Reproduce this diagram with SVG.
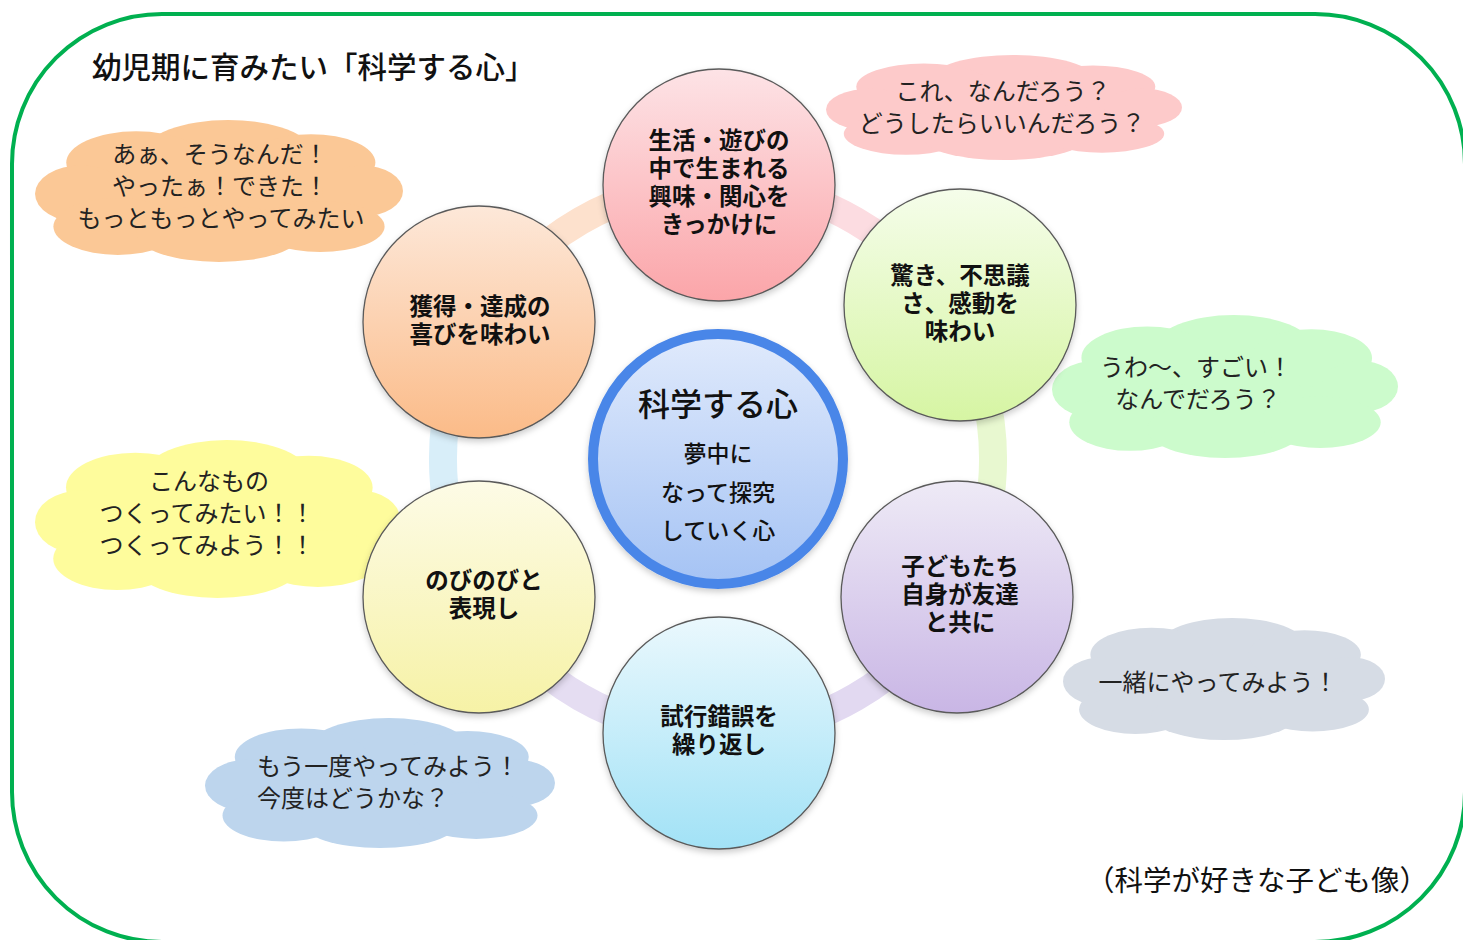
<svg xmlns="http://www.w3.org/2000/svg" xmlns:xlink="http://www.w3.org/1999/xlink" width="1463" height="940" viewBox="0 0 1463 940">
<defs>
<style>
text{font-family:"Noto Sans CJK JP","Noto Sans CJK SC",sans-serif;fill:#111;}
.node{font-size:23.5px;font-weight:bold;text-anchor:middle;}
.cloud{font-size:24px;text-anchor:middle;fill:#222;}
.circ{stroke:#5a5a5a;stroke-width:1.3;filter:url(#sh);}
.ring{fill:none;stroke-width:28;}
</style>
<filter id="sh" x="-10%" y="-10%" width="120%" height="125%">
<feDropShadow dx="0" dy="3" stdDeviation="3" flood-color="#000" flood-opacity="0.2"/>
</filter>
<linearGradient id="gPink" x1="0" y1="0" x2="0" y2="1"><stop offset="0" stop-color="#fde3e6"/><stop offset="1" stop-color="#fba5a9"/></linearGradient>
<linearGradient id="gGreen" x1="0" y1="0" x2="0" y2="1"><stop offset="0" stop-color="#f5fdea"/><stop offset="1" stop-color="#d6f5a3"/></linearGradient>
<linearGradient id="gPurple" x1="0" y1="0" x2="0" y2="1"><stop offset="0" stop-color="#eeeaf6"/><stop offset="1" stop-color="#c9b6e5"/></linearGradient>
<linearGradient id="gCyan" x1="0" y1="0" x2="0" y2="1"><stop offset="0" stop-color="#eaf8fd"/><stop offset="1" stop-color="#a2e2f6"/></linearGradient>
<linearGradient id="gYellow" x1="0" y1="0" x2="0" y2="1"><stop offset="0" stop-color="#fdfbe6"/><stop offset="1" stop-color="#f6f2a6"/></linearGradient>
<linearGradient id="gOrange" x1="0" y1="0" x2="0" y2="1"><stop offset="0" stop-color="#fde8d9"/><stop offset="1" stop-color="#fbbb88"/></linearGradient>
<linearGradient id="gBlue" x1="0" y1="0" x2="0" y2="1"><stop offset="0" stop-color="#e0eafc"/><stop offset="1" stop-color="#a5c3f4"/></linearGradient>
<symbol id="cloud" viewBox="0 0 200 100" preserveAspectRatio="none">
<ellipse cx="100" cy="50" rx="80" ry="35"/>
<ellipse cx="105" cy="22" rx="45" ry="22"/>
<ellipse cx="55" cy="30" rx="38" ry="22"/>
<ellipse cx="150" cy="30" rx="35" ry="20"/>
<ellipse cx="25" cy="52" rx="25" ry="20"/>
<ellipse cx="178" cy="50" rx="22" ry="18"/>
<ellipse cx="45" cy="75" rx="35" ry="20"/>
<ellipse cx="100" cy="80" rx="45" ry="20"/>
<ellipse cx="155" cy="75" rx="35" ry="18"/>
</symbol>
</defs>
<rect width="1463" height="940" fill="#ffffff"/>
<rect id="frame" x="12" y="14" width="1453" height="928" rx="150" ry="150" fill="none" stroke="#00b050" stroke-width="4"/>
<text x="92" y="78" style="font-size:29.5px;font-weight:500;">幼児期に育みたい「科学する心」</text>
<text x="1428" y="891" style="font-size:28.5px;text-anchor:end;">（科学が好きな子ども像）</text>

<g id="connectors">
<path class="ring" stroke="#e8f8d0" d="M956.2,321.5 A275,275 0 0 1 956.2,596.5"/>
<path class="ring" stroke="#e2d9f1" d="M956.2,596.5 A275,275 0 0 1 718,734"/>
<path class="ring" stroke="#e5ddf2" d="M718,734 A275,275 0 0 1 479.8,596.5"/>
<path class="ring" stroke="#d8eef9" d="M479.8,596.5 A275,275 0 0 1 479.8,321.5"/>
<path class="ring" stroke="#fde1cd" d="M479.8,321.5 A275,275 0 0 1 718,184"/>
<path class="ring" stroke="#fcdce1" d="M718,184 A275,275 0 0 1 956.2,321.5"/>
</g>

<g id="cloud-orange">
<use xlink:href="#cloud" x="35" y="120" width="368" height="142" fill="#fbc896"/>
<text class="cloud"><tspan x="220" y="163">あぁ、そうなんだ！</tspan><tspan x="220" y="195">やったぁ！できた！</tspan><tspan x="221" y="227">もっともっとやってみたい</tspan></text>
</g>
<g id="cloud-pink">
<use xlink:href="#cloud" x="826" y="55" width="356" height="105" fill="#fdcaca"/>
<text class="cloud"><tspan x="1003" y="100">これ、なんだろう？</tspan><tspan x="1002" y="132">どうしたらいいんだろう？</tspan></text>
</g>
<g id="cloud-green">
<use xlink:href="#cloud" x="1052" y="315" width="346" height="143" fill="#ccfbcc"/>
<text class="cloud"><tspan x="1196" y="376">うわ～、すごい！</tspan><tspan x="1198" y="408">なんでだろう？</tspan></text>
</g>
<g id="cloud-gray">
<use xlink:href="#cloud" x="1063" y="618" width="322" height="122" fill="#d6dce5"/>
<text class="cloud" x="1218" y="691">一緒にやってみよう！</text>
</g>
<g id="cloud-yellow">
<use xlink:href="#cloud" x="35" y="440" width="365" height="158" fill="#fefc9c"/>
<text class="cloud"><tspan x="209" y="490">こんなもの</tspan><tspan x="207" y="522">つくってみたい！！</tspan><tspan x="207" y="554">つくってみよう！！</tspan></text>
</g>
<g id="cloud-blue">
<use xlink:href="#cloud" x="205" y="718" width="350" height="130" fill="#bdd5ed"/>
<text class="cloud" style="text-anchor:start;"><tspan x="257" y="775">もう一度やってみよう！</tspan><tspan x="257" y="807">今度はどうかな？</tspan></text>
</g>

<g id="node-pink">
<circle class="circ" cx="719" cy="185" r="116" fill="url(#gPink)"/>
<text class="node"><tspan x="719" y="149">生活・遊びの</tspan><tspan x="719" y="177">中で生まれる</tspan><tspan x="719" y="205">興味・関心を</tspan><tspan x="719" y="233">きっかけに</tspan></text>
</g>
<g id="node-green">
<circle class="circ" cx="960" cy="305" r="116" fill="url(#gGreen)"/>
<text class="node"><tspan x="960" y="284">驚き、不思議</tspan><tspan x="960" y="312">さ、感動を</tspan><tspan x="960" y="340">味わい</tspan></text>
</g>
<g id="node-purple">
<circle class="circ" cx="957" cy="597" r="116" fill="url(#gPurple)"/>
<text class="node"><tspan x="960" y="575">子どもたち</tspan><tspan x="960" y="603">自身が友達</tspan><tspan x="960" y="631">と共に</tspan></text>
</g>
<g id="node-cyan">
<circle class="circ" cx="719" cy="733" r="116" fill="url(#gCyan)"/>
<text class="node"><tspan x="719" y="725">試行錯誤を</tspan><tspan x="719" y="753">繰り返し</tspan></text>
</g>
<g id="node-yellow">
<circle class="circ" cx="479" cy="597" r="116" fill="url(#gYellow)"/>
<text class="node"><tspan x="484" y="589">のびのびと</tspan><tspan x="484" y="617">表現し</tspan></text>
</g>
<g id="node-orange">
<circle class="circ" cx="479" cy="322" r="116" fill="url(#gOrange)"/>
<text class="node"><tspan x="480" y="315">獲得・達成の</tspan><tspan x="480" y="343">喜びを味わい</tspan></text>
</g>
<g id="node-center">
<circle cx="718" cy="459" r="125" fill="url(#gBlue)" stroke="#4a86e8" stroke-width="10" filter="url(#sh)"/>
<text x="718" y="416" style="font-size:32px;text-anchor:middle;font-weight:500;">科学する心</text>
<text style="font-size:23px;text-anchor:middle;font-weight:500;"><tspan x="718" y="462">夢中に</tspan><tspan x="718" y="501">なって探究</tspan><tspan x="718" y="539">していく心</tspan></text>
</g>
</svg>
